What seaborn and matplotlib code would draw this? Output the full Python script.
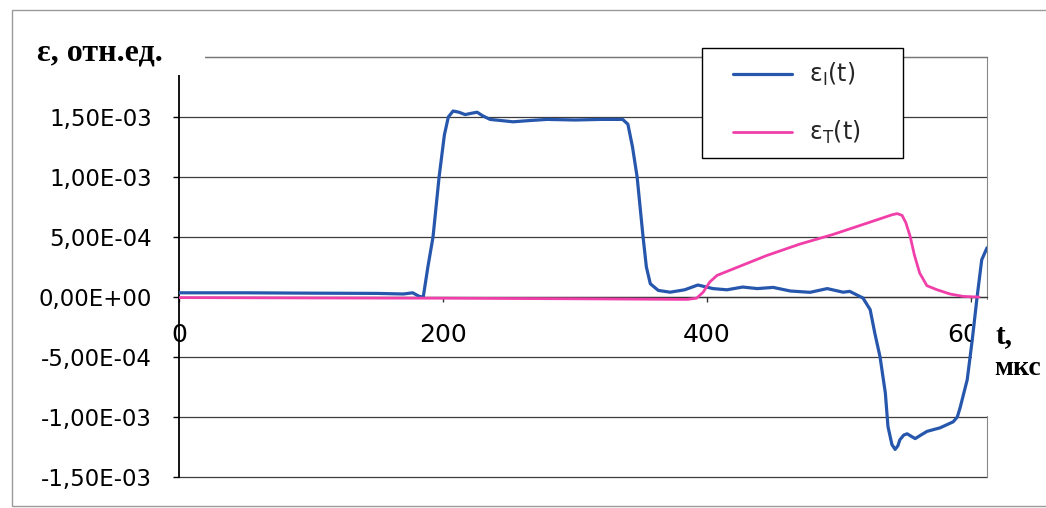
import matplotlib
matplotlib.use("Agg")
import matplotlib.pyplot as plt
import seaborn as sns
import pandas as pd
from matplotlib.patches import Rectangle

# ---------------- data ----------------
t_inc = [0, 50, 100, 150, 170, 177, 182, 185, 188.5, 192.4, 197, 201, 204, 207.6,
         212, 216.7, 221, 225.8, 230, 235.6, 253, 265, 278.8, 300, 320, 336, 340,
         343.5, 347, 351.5, 354, 357, 363, 372, 383, 393, 404.5, 415, 427, 438,
         450, 463, 478, 491, 503, 508, 518, 523.5, 527, 531, 535, 537, 540, 542.4,
         544.5, 546, 549, 551.5, 554.5, 557.6, 562, 566.5, 576.5, 586.4, 589.5,
         591.7, 597, 600.8, 604.5, 608, 612]
eps_inc = [3.5e-5, 3.5e-5, 3.2e-5, 3.0e-5, 2.5e-5, 3.5e-5, 5e-6, 0, 2.5e-4, 5e-4,
           1.0e-3, 1.35e-3, 1.5e-3, 1.55e-3, 1.54e-3, 1.52e-3, 1.53e-3, 1.54e-3,
           1.51e-3, 1.48e-3, 1.46e-3, 1.47e-3, 1.48e-3, 1.475e-3, 1.48e-3, 1.48e-3,
           1.44e-3, 1.25e-3, 1.0e-3, 5e-4, 2.5e-4, 1.1e-4, 5.5e-5, 4e-5, 6e-5, 1.0e-4,
           7e-5, 6e-5, 8.3e-5, 7e-5, 8e-5, 5e-5, 3.9e-5, 7e-5, 4e-5, 4.7e-5, -8e-6,
           -1.05e-4, -3e-4, -5e-4, -8e-4, -1.08e-3, -1.23e-3, -1.27e-3, -1.24e-3,
           -1.19e-3, -1.15e-3, -1.14e-3, -1.16e-3, -1.18e-3, -1.15e-3, -1.12e-3,
           -1.09e-3, -1.04e-3, -1.0e-3, -9.2e-4, -6.9e-4, -3.6e-4, 0, 3.1e-4, 4.1e-4]

t_tr = [0, 100, 200, 300, 385, 392, 397, 402, 407.5, 420, 445, 470, 495, 521, 540,
        544, 547.7, 550.5, 553.8, 557, 561, 566.5, 574, 584, 594, 604.5, 606]
eps_tr = [-5e-6, -8e-6, -1e-5, -1.5e-5, -2e-5, -1e-5, 4e-5, 1.25e-4, 1.8e-4, 2.35e-4,
          3.45e-4, 4.4e-4, 5.2e-4, 6.15e-4, 6.85e-4, 6.95e-4, 6.8e-4, 6.2e-4, 5.05e-4,
          3.5e-4, 2e-4, 9.4e-5, 6.1e-5, 2.5e-5, 5e-6, 0, 0]

series_labels = ["ε$_\\mathrm{I}$(t)", "ε$_\\mathrm{T}$(t)"]
xtick_vals = [0, 200, 400, 600]
xtick_labels = ["0", "200", "400", "600"]
ytick_vals = [-1.5e-3, -1.0e-3, -5e-4, 0, 5e-4, 1.0e-3, 1.5e-3, 2.0e-3]
ytick_labels = ["-1,50E-03", "-1,00E-03", "-5,00E-04", "0,00E+00",
                "5,00E-04", "1,00E-03", "1,50E-03", ""]
y_title = "ε, отн.ед."
x_title_1 = "t,"
x_title_2 = "мкс"

# ---------------- figure ----------------
sns.set_theme(style="white")
plt.rcParams["font.family"] = ["DejaVu Sans"]

W, H = 1046, 508
fig = plt.figure(figsize=(W / 100, H / 100), dpi=100)
fig.patch.set_facecolor("white")
L, R, T, B = 179, 987, 57, 477
ax = fig.add_axes([L / W, 1 - B / H, (R - L) / W, (B - T) / H])
ax.set_facecolor("white")

df_i = pd.DataFrame({"t": t_inc, "eps": eps_inc})
df_t = pd.DataFrame({"t": t_tr, "eps": eps_tr})
blue = "#2657ad"
magenta = "#f03fa8"
sns.lineplot(data=df_i, x="t", y="eps", ax=ax, color=blue, lw=2.3,
             sort=False, estimator=None, label=series_labels[0], zorder=3)
sns.lineplot(data=df_t, x="t", y="eps", ax=ax, color=magenta, lw=2.0,
             sort=False, estimator=None, label=series_labels[1], zorder=3.1)

ax.set_xlim(0, 612)
ax.set_ylim(-1.5e-3, 2.0e-3)
ax.set_xlabel("")
ax.set_ylabel("")

ax.set_xticks(xtick_vals)
ax.set_xticklabels(xtick_labels)
ax.set_yticks(ytick_vals)
ax.set_yticklabels(ytick_labels)

ax.yaxis.grid(True, color="#3c3c3c", lw=0.9)
ax.xaxis.grid(False)
for gl in ax.get_ygridlines():
    gl.set_clip_on(False)

for s in ax.spines.values():
    s.set_visible(True)
ax.spines["left"].set_color("black")
ax.spines["left"].set_linewidth(1.3)
ax.spines["bottom"].set_position(("data", 0))
ax.spines["bottom"].set_color("#333333")
ax.spines["bottom"].set_linewidth(0.9)
ax.spines["top"].set_color("#777777")
ax.spines["top"].set_linewidth(0.8)
ax.spines["right"].set_color("#888888")
ax.spines["right"].set_linewidth(0.8)
ax.spines["right"].set_zorder(0.8)

ax.tick_params(axis="y", left=True, direction="out", length=4.5, width=1.0,
               color="black", pad=15, labelsize=16.5, labelcolor="black")
ax.tick_params(axis="x", bottom=True, direction="out", length=3.6, width=1.0,
               color="#333333", pad=15, labelsize=18, labelcolor="black")

# white box behind the x-axis title (covers grid / tick label end, under the curves)
ax.add_patch(Rectangle((972 / W, 1 - 416 / H), (1046 - 972) / W, (416 - 300) / H,
                       transform=fig.transFigure, facecolor="white",
                       edgecolor="none", zorder=1.0, clip_on=False))

# legend
handles, labels = ax.get_legend_handles_labels()
ax.get_legend().remove()
fig.add_artist(Rectangle((702 / W, 1 - 158 / H), (903 - 702) / W, (158 - 48) / H,
                         transform=fig.transFigure, facecolor="white",
                         edgecolor="black", lw=1.0, zorder=6))
leg = fig.legend(handles, labels, loc="center left",
                 bbox_to_anchor=(733 / W, 1 - 103.5 / H), bbox_transform=fig.transFigure,
                 frameon=False, borderpad=0, borderaxespad=0, fontsize=17,
                 handlelength=2.5, handletextpad=0.7, labelspacing=1.3)
leg.set_zorder(7)

# outer chart border
fig.add_artist(Rectangle((12 / W, 1 - 506 / H), (1100 - 12) / W, (506 - 10) / H,
                         transform=fig.transFigure, facecolor="none",
                         edgecolor="#9a9a9a", lw=1.0, zorder=8))

# y-axis title with white box
fig.add_artist(Rectangle((25 / W, 1 - 75 / H), (205 - 25) / W, (75 - 28) / H,
                         transform=fig.transFigure, facecolor="white",
                         edgecolor="none", zorder=5))
serif = ["Liberation Serif", "DejaVu Serif"]
fig.text(37 / W, 1 - 61 / H, y_title, family=serif, weight="bold", size=23,
         ha="left", va="baseline", color="black", zorder=9)
fig.text(996 / W, 1 - 343 / H, x_title_1, family=serif, weight="bold", size=21,
         ha="left", va="baseline", color="black", zorder=9)
fig.text(994 / W, 1 - 375 / H, x_title_2, family=serif, weight="bold", size=20,
         ha="left", va="baseline", color="black", zorder=9)

fig.savefig("out.png", dpi=100, facecolor="white")
